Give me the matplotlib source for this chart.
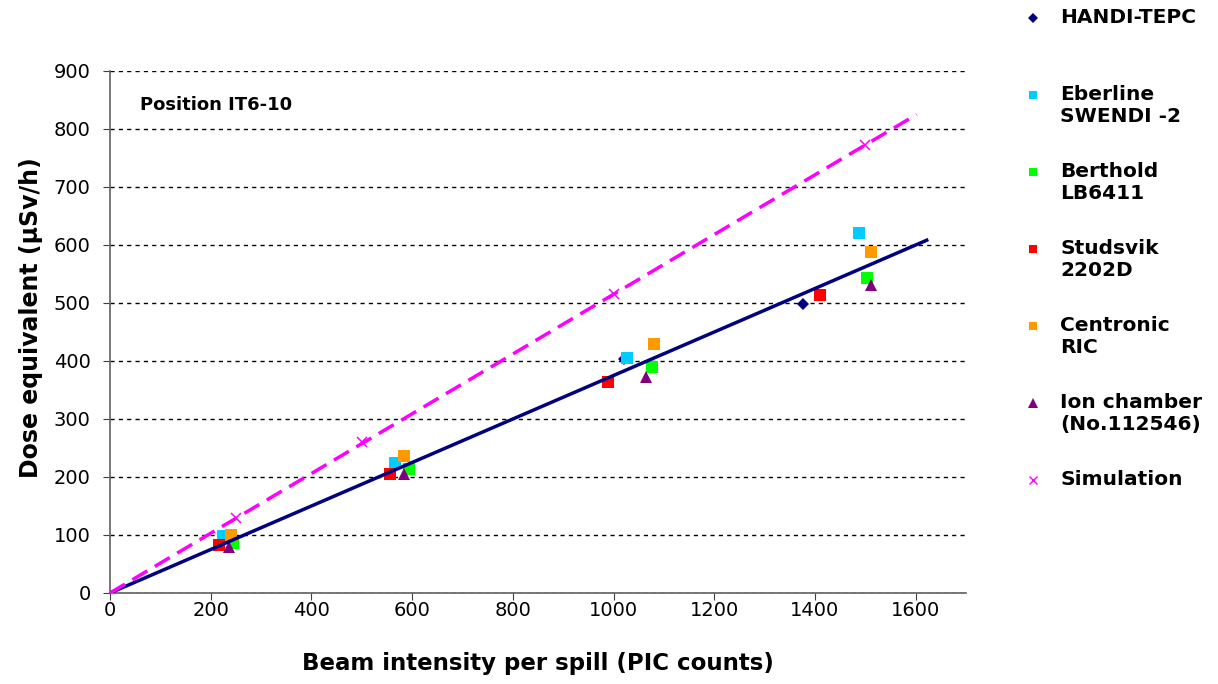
import numpy as np
import matplotlib
matplotlib.use("Agg")
import matplotlib.pyplot as plt

plt.rcParams['font.family'] = ['DejaVu Sans']

# data
handi_x = [1020, 1377]
handi_y = [403, 498]
eber_x = [224, 566, 1027, 1487]
eber_y = [98, 225, 405, 620]
berth_x = [245, 593, 1077, 1504]
berth_y = [86, 213, 389, 543]
stud_x = [217, 557, 990, 1411]
stud_y = [83, 205, 364, 514]
cent_x = [240, 584, 1080, 1512]
cent_y = [100, 236, 429, 588]
ion_x = [237, 583, 1065, 1511]
ion_y = [80, 206, 373, 531]
sim_x = [250, 500, 1000, 1500]
sim_y = [130, 260, 515, 772]

fit_slope = 0.375
fit_xmax = 1622
sim_slope = 0.515
sim_xmax = 1602

series = [
    ("HANDI-TEPC", handi_x, handi_y, 'D', '#000080', 6.5),
    ("Eberline\nSWENDI -2", eber_x, eber_y, 's', '#00CCFF', 8),
    ("Berthold\nLB6411", berth_x, berth_y, 's', '#00FF00', 8),
    ("Studsvik\n2202D", stud_x, stud_y, 's', '#FF0000', 8),
    ("Centronic\nRIC", cent_x, cent_y, 's', '#FF9900', 8),
    ("Ion chamber\n(No.112546)", ion_x, ion_y, '^', '#800080', 9),
]

fig = plt.figure(figsize=(12.18, 6.84), dpi=100)
ax = fig.add_axes([110 / 1218, 1 - 593 / 684, 856 / 1218, 522 / 684])

for label, xs, ys, m, c, ms in series:
    ax.plot(xs, ys, linestyle='none', marker=m, color=c, markersize=ms,
            markeredgewidth=0, zorder=3)
ax.plot(sim_x, sim_y, linestyle='none', marker='x', color='#FF00FF',
        markersize=7, markeredgewidth=1.1, zorder=3)

fx = np.array([0, fit_xmax])
ax.plot(fx, fit_slope * fx, color='#000080', linewidth=2.5, zorder=4)
sx = np.array([0, sim_xmax])
ax.plot(sx, sim_slope * sx, color='#FF00FF', linewidth=2.5,
        dashes=(5, 2.5), zorder=4)

ax.set_xlim(0, 1700)
ax.set_ylim(0, 900)
ax.set_xticks(np.arange(0, 1601, 200))
ax.set_yticks(np.arange(0, 901, 100))
ax.tick_params(labelsize=14, direction='out', length=5, color='#404040')
ax.tick_params(axis='x', pad=1)
ax.tick_params(axis='y', pad=9)
ax.yaxis.grid(True, color='black', linestyle=(0, (3, 3)), linewidth=1)
ax.set_axisbelow(True)
for s in ['top', 'right']:
    ax.spines[s].set_visible(False)
for s in ['left', 'bottom']:
    ax.spines[s].set_color('#606060')
    ax.spines[s].set_linewidth(1.2)

ax.set_xlabel("Beam intensity per spill (PIC counts)", fontsize=16.5,
              fontweight='bold', labelpad=23)
ax.set_ylabel("Dose equivalent (µSv/h)", fontsize=17, fontweight='bold')
ax.yaxis.set_label_coords(-0.078, 0.527)
ax.text(60, 841, "Position IT6-10", fontsize=13, fontweight='bold',
        va='center')

# legend drawn by hand, Excel style
leg_labels = [s[0] for s in series] + ["Simulation"]
leg_marks = [(s[3], s[4], s[5]) for s in series] + [('x', '#FF00FF', 6)]
for i, (lab, (m, c, ms)) in enumerate(zip(leg_labels, leg_marks)):
    ypx = 18 + 77 * i
    yf = 1 - ypx / 684
    if m == 'x':
        fig.lines.append(plt.Line2D([1033 / 1218], [yf], marker=m, color=c,
                                    markersize=ms, markeredgewidth=1,
                                    linestyle='none', transform=fig.transFigure))
    else:
        fig.lines.append(plt.Line2D([1033 / 1218], [yf], marker=m, color=c,
                                    markersize=ms * 0.8, markeredgewidth=0,
                                    linestyle='none', transform=fig.transFigure))
    fig.text(1060 / 1218, 1 - (ypx - 10) / 684, lab, fontsize=14.5,
             fontweight='bold', va='top', ha='left', linespacing=1.2)

fig.savefig("out.png", dpi=100)
